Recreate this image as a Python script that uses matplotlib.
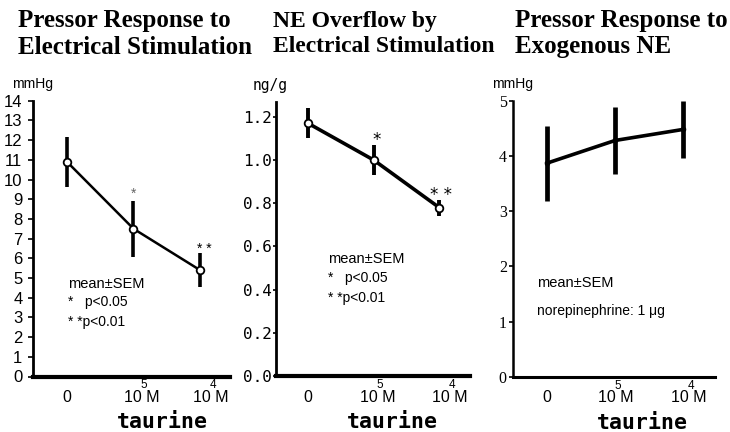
import matplotlib.pyplot as plt

# taurine doses (exponent drawn separately above the gap)
dose_labels = ["0", "10 M", "10 M"]
dose_exps = ["", "5", "4"]

# pressor response to electrical stimulation (mmHg)
pressor_mean = [10.9, 7.5, 5.4]
pressor_sem = [1.27, 1.42, 0.88]

# NE overflow by electrical stimulation (ng/g)
overflow_mean = [1.17, 1.0, 0.78]
overflow_sem = [0.07, 0.068, 0.037]

# pressor response to exogenous NE (mmHg)
exo_mean = [3.87, 4.28, 4.48]
exo_sem = [0.68, 0.61, 0.52]

stars = ["", "*", "* *"]

W, H = 730, 432
PT = 0.72  # points per pixel at dpi 100

fig = plt.figure(figsize=(W / 100, H / 100), dpi=100)


def px_axes(left, right, top, bottom):
    return fig.add_axes([left / W, 1 - bottom / H, (right - left) / W, (bottom - top) / H])


def style(ax, tick_len, tick_pad, lw_left=2.0, lw_bottom=3.0):
    for s in ("top", "right"):
        ax.spines[s].set_visible(False)
    ax.spines["left"].set_linewidth(lw_left)
    ax.spines["bottom"].set_linewidth(lw_bottom)
    ax.tick_params(axis="y", direction="out", length=tick_len, width=1.2, pad=tick_pad)
    ax.set_xticks([])


def dose_axis(ax, label_dx, taurine_x):
    for i, (lab, ex) in enumerate(zip(dose_labels, dose_exps)):
        ax.annotate(lab, xy=(i, 0), xycoords=("data", "axes fraction"),
                    xytext=(label_dx[i] * PT, -21 * PT), textcoords="offset points",
                    ha="center", va="center", fontsize=11.5, family="Liberation Sans")
        if ex:
            ax.annotate(ex, xy=(i, 0), xycoords=("data", "axes fraction"),
                        xytext=((label_dx[i] + 2) * PT, -9 * PT), textcoords="offset points",
                        ha="center", va="center", fontsize=8.5, family="Liberation Sans")
    ax.annotate("taurine", xy=(taurine_x, 0), xycoords="axes fraction",
                xytext=(0, -46 * PT), textcoords="offset points",
                ha="center", va="center", fontsize=15.5, fontweight="bold",
                family="DejaVu Sans Mono")


x = [0, 1, 2]

# ---- panel 1 ----
ax1 = px_axes(33, 230, 100.7, 376.5)
ax1.errorbar(x, pressor_mean, yerr=pressor_sem, fmt="-o", color="black", lw=1.8,
             elinewidth=2.6, capsize=0, ms=5.5, mfc="white", mec="black", mew=1.3)
ax1.set_xlim(-0.51, 2.45)
ax1.set_ylim(0, 14)
ax1.set_yticks(range(0, 15))
style(ax1, 3.6, 4)
for t in ax1.get_yticklabels():
    t.set_family("Liberation Sans")
    t.set_fontsize(12)
ax1.text(0.0, 1.06, "mmHg", transform=ax1.transAxes, ha="center", va="center",
         fontsize=10, family="Liberation Sans")
for i, (dx, dy, col) in enumerate([(0, 0, None), (0, 3, "#666666"), (4, 0, "black")]):
    if stars[i]:
        ax1.annotate(stars[i], xy=(x[i], pressor_mean[i] + pressor_sem[i]),
                     xytext=(dx * PT, dy * PT), textcoords="offset points",
                     ha="center", va="baseline", fontsize=10, color=col,
                     family="Liberation Sans")
ax1.text(0.178, 0.335, "mean±SEM", transform=ax1.transAxes, va="center",
         fontsize=10.5, family="Liberation Sans")
ax1.text(0.178, 0.27, "*   p<0.05", transform=ax1.transAxes, va="center",
         fontsize=10, family="Liberation Sans")
ax1.text(0.178, 0.198, "* *p<0.01", transform=ax1.transAxes, va="center",
         fontsize=10, family="Liberation Sans")
dose_axis(ax1, [0, 8, 11], 0.657)

# ---- panel 2 ----
ax2 = px_axes(276, 470, 101.7, 376)
ax2.errorbar(x, overflow_mean, yerr=overflow_sem, fmt="-o", color="black", lw=2.6,
             elinewidth=2.8, capsize=0, ms=5.5, mfc="white", mec="black", mew=1.3)
ax2.set_xlim(-0.49, 2.47)
ax2.set_ylim(0, 1.27)
ax2.set_yticks([0, 0.2, 0.4, 0.6, 0.8, 1.0, 1.2])
ax2.set_yticklabels([f"{v:.1f}" for v in ax2.get_yticks()])
style(ax2, 2, 1)
for t in ax2.get_yticklabels():
    t.set_family("DejaVu Sans Mono")
    t.set_fontsize(11.5)
ax2.text(-0.03, 1.06, "ng/g", transform=ax2.transAxes, ha="center", va="center",
         fontsize=10.5, family="DejaVu Sans Mono")
for i, (dx, dy) in enumerate([(0, 0), (3, 0), (2, 0)]):
    if stars[i]:
        ax2.annotate(stars[i], xy=(x[i], overflow_mean[i] + overflow_sem[i]),
                     xytext=(dx * PT, dy * PT), textcoords="offset points",
                     ha="center", va="baseline", fontsize=12, family="DejaVu Sans")
ax2.text(0.268, 0.427, "mean±SEM", transform=ax2.transAxes, va="center",
         fontsize=10.5, family="Liberation Sans")
ax2.text(0.268, 0.357, "*   p<0.05", transform=ax2.transAxes, va="center",
         fontsize=10, family="Liberation Sans")
ax2.text(0.268, 0.284, "* *p<0.01", transform=ax2.transAxes, va="center",
         fontsize=10, family="Liberation Sans")
dose_axis(ax2, [0, 4, 11], 0.6)

# ---- panel 3 ----
ax3 = px_axes(513, 715, 100.7, 377)
ax3.errorbar(x, exo_mean, yerr=exo_sem, fmt="-o", color="black", lw=2.6,
             elinewidth=3.4, capsize=0, ms=3)
ax3.set_xlim(-0.5, 2.47)
ax3.set_ylim(0, 5)
ax3.set_yticks(range(0, 6))
style(ax3, 3, 1.5, lw_left=1.8, lw_bottom=2.2)
for t in ax3.get_yticklabels():
    t.set_family("Liberation Serif")
    t.set_fontsize(11.5)
ax3.text(0.0, 1.06, "mmHg", transform=ax3.transAxes, ha="center", va="center",
         fontsize=10, family="Liberation Sans")
ax3.text(0.119, 0.34, "mean±SEM", transform=ax3.transAxes, va="center",
         fontsize=10.5, family="Liberation Sans")
ax3.text(0.119, 0.239, "norepinephrine: 1 μg", transform=ax3.transAxes, va="center",
         fontsize=10, family="Liberation Sans")
dose_axis(ax3, [0, 1, 6], 0.64)

# ---- titles ----
titles = [
    ("Pressor Response to", "Electrical Stimulation", 18, 18),
    ("NE Overflow by", "Electrical Stimulation", 273, 17),
    ("Pressor Response to", "Exogenous NE", 515, 18),
]
for line1, line2, left, size in titles:
    fig.text(left / W, 1 - 21 / H, line1, ha="left", va="center", fontsize=size,
             fontweight="bold", family="Liberation Serif")
    fig.text(left / W, 1 - 47 / H, line2, ha="left", va="center", fontsize=size,
             fontweight="bold", family="Liberation Serif")

fig.savefig("out.png", dpi=100)
